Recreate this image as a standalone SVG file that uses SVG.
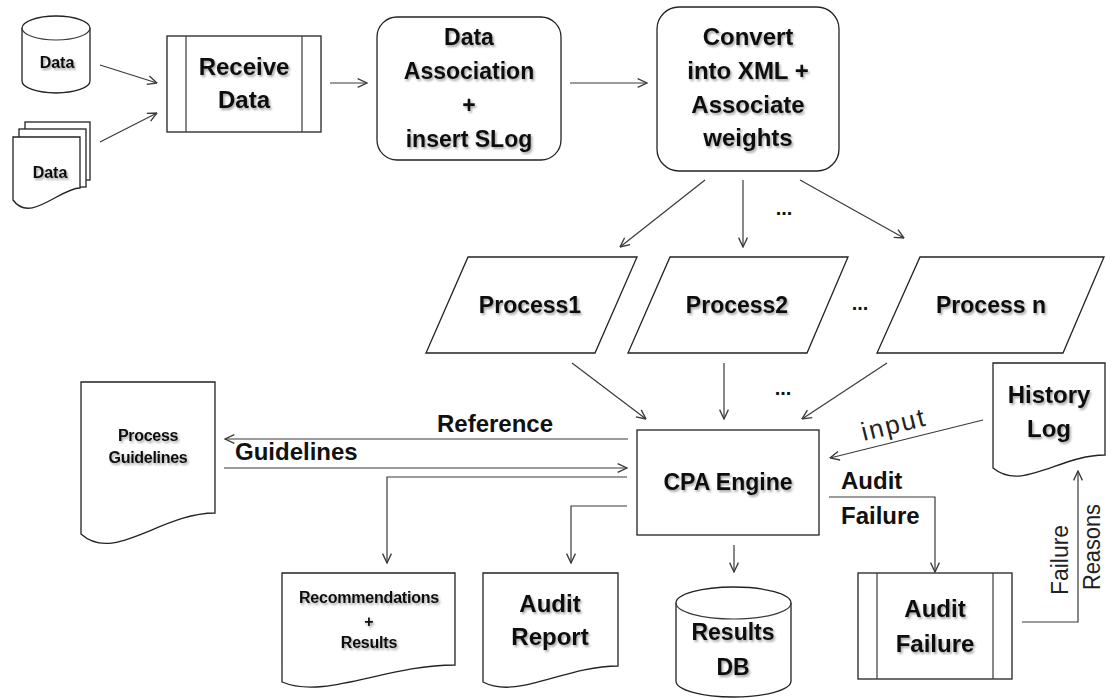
<svg xmlns="http://www.w3.org/2000/svg" width="1106" height="698" viewBox="0 0 1106 698">
<defs>
<style>
.n{fill:#fff;stroke:#222;stroke-width:1.3}
.c{fill:none;stroke:#3a3a3a;stroke-width:1.2;marker-end:url(#a)}
.l{fill:none;stroke:#3a3a3a;stroke-width:1.2}
.t{font-family:"Liberation Sans",Arial,sans-serif;font-weight:bold;fill:#111;text-anchor:middle;filter:url(#sh)}
.lb{font-family:"Liberation Sans",Arial,sans-serif;font-weight:bold;fill:#111;font-size:24px}
.rg{font-family:"Liberation Sans",Arial,sans-serif;fill:#222;text-anchor:middle}
.d{font-family:"Liberation Sans",Arial,sans-serif;font-weight:bold;fill:#111;font-size:20px;text-anchor:middle}
</style>
<filter id="sh" x="-10%" y="-30%" width="130%" height="170%">
<feDropShadow dx="1.5" dy="2" stdDeviation="1.3" flood-color="#000" flood-opacity="0.35"/>
</filter>
<marker id="a" viewBox="0 0 10 10" refX="9.5" refY="5" markerWidth="11" markerHeight="11" markerUnits="userSpaceOnUse" orient="auto">
<path d="M1,1 L9.5,5 L1,9" fill="none" stroke="#3a3a3a" stroke-width="1.2"/>
</marker>
</defs>

<g id="connectors">
<line class="c" x1="100" y1="65" x2="157" y2="83"/>
<line class="c" x1="100" y1="142" x2="157" y2="113"/>
<line class="c" x1="330" y1="83" x2="367" y2="83"/>
<line class="c" x1="570" y1="83" x2="647" y2="83"/>
<line class="c" x1="705" y1="180" x2="620" y2="247"/>
<line class="c" x1="743" y1="180" x2="743" y2="247"/>
<line class="c" x1="800" y1="180" x2="904" y2="238"/>
<line class="c" x1="572" y1="363" x2="646" y2="419"/>
<line class="c" x1="724" y1="363" x2="724" y2="419"/>
<line class="c" x1="887" y1="363" x2="802" y2="419"/>
<line class="c" x1="628" y1="439" x2="225" y2="439"/>
<line class="c" x1="224" y1="468" x2="627" y2="468"/>
<polyline class="c" points="627,477 387,477 387,563"/>
<polyline class="c" points="627,506 571,506 571,563"/>
<line class="c" x1="734" y1="545" x2="734" y2="572"/>
<polyline class="c" points="829,497 935,497 935,572"/>
<line class="c" x1="983" y1="420" x2="830" y2="458"/>
<polyline class="c" points="1022,622 1078,622 1078,471"/>
<text class="d" x="784" y="215">...</text>
<text class="d" x="860" y="310">...</text>
<text class="d" x="783" y="395">...</text>
<text class="lb" x="437" y="432">Reference</text>
<text class="lb" x="235" y="460">Guidelines</text>
<text class="lb" x="841" y="489">Audit</text>
<text class="lb" x="841" y="524">Failure</text>
<text class="rg" x="896" y="433" font-size="26" letter-spacing="2" transform="rotate(-14 896 433)">input</text>
<text class="rg" x="1068" y="560" font-size="23" textLength="70" lengthAdjust="spacingAndGlyphs" transform="rotate(-90 1068 560)">Failure</text>
<text class="rg" x="1100" y="547" font-size="23" textLength="86" lengthAdjust="spacingAndGlyphs" transform="rotate(-90 1100 547)">Reasons</text>
</g>

<g id="data-db">
<path class="n" d="M22,28 A34,12 0 0 1 90,28 V81 A34,12 0 0 1 22,81 Z"/>
<path class="l" d="M22,28 A34,12 0 0 0 90,28"/>
<text class="t" x="57" y="68" font-size="16">Data</text>
</g>

<g id="data-docs">
<rect class="n" x="25" y="122" width="65" height="58"/>
<rect class="n" x="19" y="129" width="67" height="58"/>
<path class="n" d="M13,137 H80 V188 C60,188 30,224 13,200 Z"/>
<text class="t" x="50" y="178" font-size="16">Data</text>
</g>

<g id="receive-data">
<rect class="n" x="167" y="36" width="154" height="96"/>
<line class="l" x1="186" y1="36" x2="186" y2="132"/>
<line class="l" x1="302" y1="36" x2="302" y2="132"/>
<text class="t" x="244" y="75" font-size="24">Receive</text>
<text class="t" x="244" y="108" font-size="24">Data</text>
</g>

<g id="data-association">
<rect class="n" x="377" y="17" width="184" height="143" rx="20"/>
<text class="t" x="469" y="45" font-size="23">Data</text>
<text class="t" x="469" y="79" font-size="23">Association</text>
<text class="t" x="469" y="113" font-size="23">+</text>
<text class="t" x="469" y="147" font-size="23">insert SLog</text>
</g>

<g id="convert">
<rect class="n" x="657" y="7" width="182" height="164" rx="22"/>
<text class="t" x="748" y="45" font-size="24">Convert</text>
<text class="t" x="748" y="79" font-size="24">into XML +</text>
<text class="t" x="748" y="113" font-size="24">Associate</text>
<text class="t" x="748" y="146" font-size="24">weights</text>
</g>

<g id="process1">
<polygon class="n" points="468,257 637,257 595,353 426,353"/>
<text class="t" x="530" y="313" font-size="23">Process1</text>
</g>

<g id="process2">
<polygon class="n" points="670,257 848,257 807,353 628,353"/>
<text class="t" x="737" y="313" font-size="23">Process2</text>
</g>

<g id="process-n">
<polygon class="n" points="920,257 1104,257 1063,353 877,353"/>
<text class="t" x="991" y="313" font-size="23">Process n</text>
</g>

<g id="cpa-engine">
<rect class="n" x="637" y="430" width="182" height="105"/>
<text class="t" x="728" y="490" font-size="23">CPA Engine</text>
</g>

<g id="process-guidelines">
<path class="n" d="M81,382 H215 V513 C161,513 114,564 81,534 Z"/>
<text class="t" x="148" y="441" font-size="16" letter-spacing="-0.3">Process</text>
<text class="t" x="148" y="463" font-size="16" letter-spacing="-0.3">Guidelines</text>
</g>

<g id="history-log">
<path class="n" d="M993,363 H1105 V455 C1060,455 1022,492 993,468 Z"/>
<text class="t" x="1049" y="403" font-size="24">History</text>
<text class="t" x="1049" y="437" font-size="24">Log</text>
</g>

<g id="recommendations">
<path class="n" d="M282,573 H455 V665 C386,665 325,700 282,682 Z"/>
<text class="t" x="369" y="603" font-size="16" letter-spacing="-0.2">Recommendations</text>
<text class="t" x="369" y="627" font-size="16">+</text>
<text class="t" x="369" y="648" font-size="16" letter-spacing="-0.2">Results</text>
</g>

<g id="audit-report">
<path class="n" d="M483,573 H618 V666 C564,666 517,700 483,682 Z"/>
<text class="t" x="550" y="612" font-size="24">Audit</text>
<text class="t" x="550" y="645" font-size="24">Report</text>
</g>

<g id="results-db">
<path class="n" d="M676,603 A57.5,16 0 0 1 791,603 V681 A57.5,16 0 0 1 676,681 Z"/>
<path class="l" d="M676,603 A57.5,16 0 0 0 791,603"/>
<text class="t" x="733" y="640" font-size="23">Results</text>
<text class="t" x="733" y="675" font-size="23">DB</text>
</g>

<g id="audit-failure">
<rect class="n" x="858" y="573" width="154" height="106"/>
<line class="l" x1="877" y1="573" x2="877" y2="679"/>
<line class="l" x1="993" y1="573" x2="993" y2="679"/>
<text class="t" x="935" y="617" font-size="24">Audit</text>
<text class="t" x="935" y="652" font-size="24">Failure</text>
</g>
</svg>
